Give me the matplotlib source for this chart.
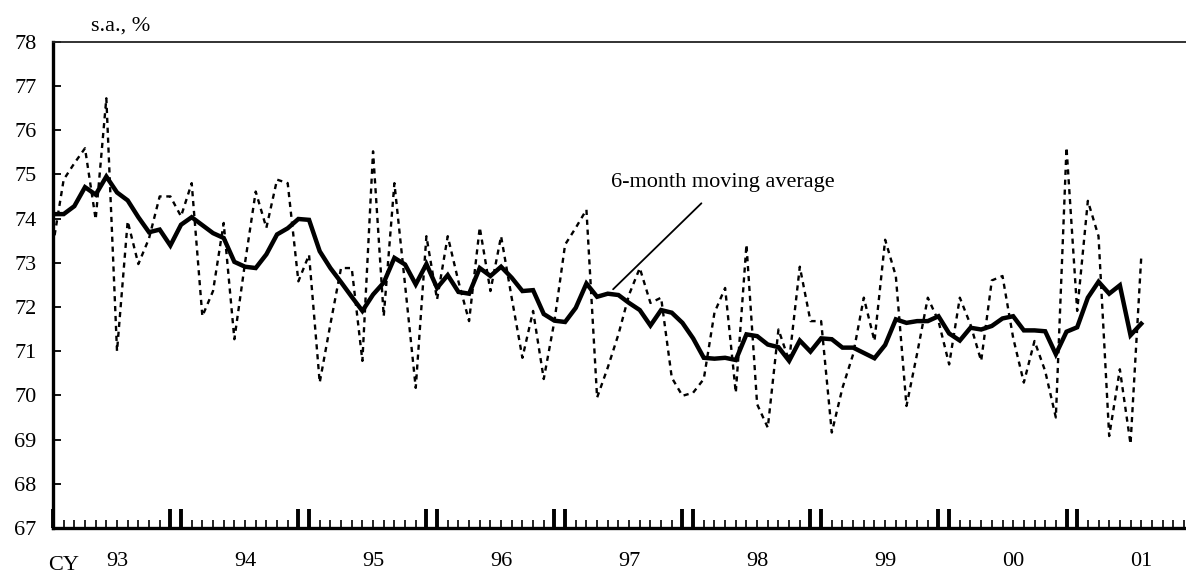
import numpy as np
import matplotlib
matplotlib.use("Agg")
import matplotlib.pyplot as plt
from matplotlib.transforms import blended_transform_factory

plt.rcParams['font.family'] = ['Liberation Serif', 'DejaVu Serif']

# Monthly series (first month = start of CY1993)
actual = [73.4, 74.88, 75.25, 75.59, 73.98, 76.72, 71.00, 73.94, 72.97, 73.55,
          74.50, 74.50, 74.05, 74.80, 71.79, 72.36, 73.90, 71.27, 73.00, 74.61,
          73.79, 74.88, 74.80, 72.58, 73.18, 70.29, 71.61, 72.88, 72.88, 70.78,
          75.52, 71.79, 74.80, 72.50, 70.17, 73.60, 72.17, 73.60, 72.58, 71.68,
          73.80, 72.36, 73.60, 72.20, 70.85, 71.91, 70.37, 71.68, 73.41, 73.79,
          74.20, 69.95, 70.63, 71.38, 72.28, 72.88, 72.09, 72.21, 70.40, 69.99,
          70.06, 70.37, 71.87, 72.43, 70.06, 73.41, 69.80, 69.27, 71.49, 70.78,
          72.91, 71.68, 71.68, 69.16, 70.17, 70.93, 72.21, 71.23, 73.52, 72.70,
          69.76, 70.95, 72.21, 71.68, 70.70, 72.21, 71.60, 70.78, 72.60, 72.70,
          71.30, 70.29, 71.23, 70.55, 69.50, 75.61, 71.91, 74.40, 73.60, 69.08,
          70.59, 68.90, 73.11]

moving_avg = [74.10, 74.10, 74.28, 74.71, 74.54, 74.95, 74.59, 74.41, 74.03, 73.69,
              73.75, 73.39, 73.86, 74.03, 73.85, 73.67, 73.56, 73.02, 72.91, 72.88,
              73.19, 73.64, 73.78, 73.99, 73.97, 73.26, 72.88, 72.56, 72.23, 71.91,
              72.28, 72.55, 73.11, 72.96, 72.51, 72.97, 72.43, 72.72, 72.34, 72.30,
              72.88, 72.70, 72.91, 72.66, 72.36, 72.38, 71.84, 71.69, 71.66, 71.98,
              72.53, 72.23, 72.30, 72.27, 72.09, 71.93, 71.58, 71.93, 71.87, 71.64,
              71.29, 70.85, 70.83, 70.85, 70.80, 71.38, 71.34, 71.15, 71.09, 70.78,
              71.24, 70.99, 71.29, 71.27, 71.08, 71.08, 70.96, 70.84, 71.14, 71.72,
              71.64, 71.68, 71.68, 71.79, 71.40, 71.24, 71.53, 71.49, 71.57, 71.74,
              71.79, 71.47, 71.47, 71.45, 70.93, 71.44, 71.54, 72.21, 72.57, 72.30,
              72.49, 71.36, 71.62]

year_labels = ['93', '94', '95', '96', '97', '98', '99', '00', '01']
y_ticks = list(range(67, 79))

months = np.arange(len(actual))
W, H = 1186, 576
XMAX = 106.2
fig = plt.figure(figsize=(W / 100, H / 100), dpi=100)
left, right = 53 / W, 1.0
bottom, top = 1 - 528 / H, 1 - 41.7 / H
ax = fig.add_axes([left, bottom, right - left, top - bottom])

ax.plot(months, actual, color='black', lw=1.7, linestyle=(0, (2.2, 2.0)))
ax.plot(months, moving_avg, color='black', lw=3.2, solid_joinstyle='miter')

# axes styling
ax.spines['right'].set_visible(False)
ax.spines['left'].set_linewidth(2.4)
ax.spines['bottom'].set_linewidth(2.4)
ax.spines['top'].set_linewidth(1.3)
ax.spines['top'].set_color('#222222')

ax.set_yticks(y_ticks)
ax.set_yticklabels([str(v) for v in y_ticks])
ax.tick_params(axis='y', direction='in', length=6, width=1.3, labelsize=16, pad=12)

# x ticks: thick double ticks at year boundaries, small ticks each month
n_years = len(year_labels)
major = [0] + [p for k in range(1, n_years + 1) for p in (12 * k - 1, 12 * k)
               if p <= XMAX]
ax.set_xticks(major)
ax.set_xticklabels([])
ax.set_xticks(np.arange(0, int(XMAX) + 1), minor=True)
ax.tick_params(axis='x', which='major', direction='in', length=14, width=2.8)
ax.tick_params(axis='x', which='minor', direction='in', length=5.5, width=1.2)

ax.set_xlim(0, XMAX)
ax.set_ylim(67, 78)

trans = blended_transform_factory(ax.transData, ax.transAxes)
for k, lab in enumerate(year_labels):
    ax.text(6 + 12 * k, -0.068, lab, transform=trans, ha='center', va='center', fontsize=16)
fig.text(64 / W, 1 - 566 / H, 'CY', ha='center', va='center', fontsize=16)
fig.text(121 / W, 1 - 26 / H, 's.a., %', ha='center', va='center', fontsize=16)

ax.annotate('6-month moving average', xy=(52.5, 72.40), xytext=(62.8, 74.82),
            ha='center', va='center', fontsize=16,
            arrowprops=dict(arrowstyle='-', color='black', lw=1.3,
                            shrinkA=9, shrinkB=0))

fig.savefig('out.png', dpi=100)
